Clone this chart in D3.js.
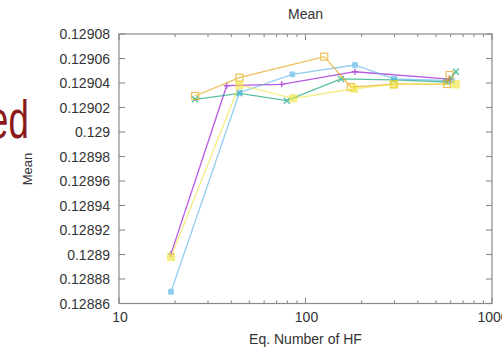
<!DOCTYPE html>
<html>
<head>
<meta charset="utf-8">
<script src="https://cdn.jsdelivr.net/npm/d3@7"></script>
<style>
  body { margin: 0; background: #fff; }
  svg { display: block; font-family: "Liberation Sans", Arial, sans-serif; }
</style>
</head>
<body>
<svg id="chart"></svg>
<script>
// series: [eq. number of HF, mean]
var purple = [[19, 0.1289005], [37.8, 0.1290378], [74.5, 0.1290389], [184, 0.1290492], [592, 0.1290432]];
var green  = [[25.6, 0.1290267], [44.2, 0.1290316], [79.5, 0.1290256], [155, 0.1290433], [298, 0.1290425], [574, 0.1290408], [640, 0.1290492]];
var blue   = [[19, 0.1288696], [44.2, 0.1290321], [85, 0.1290471], [184, 0.1290547], [298, 0.1290433], [610, 0.1290420]];
var orange = [[25.6, 0.1290294], [44.2, 0.1290443], [126, 0.1290615], [175, 0.1290367], [298, 0.1290390], [574, 0.1290392], [592, 0.1290465]];
var yellow = [[19, 0.1288980], [44.2, 0.1290384], [86, 0.1290275], [182, 0.1290353], [298, 0.1290389], [640, 0.1290389]];

var yTicks = [0.12886, 0.12888, 0.1289, 0.12892, 0.12894, 0.12896, 0.12898, 0.129, 0.12902, 0.12904, 0.12906, 0.12908];
var xTicks = [10, 100, 1000];

var series = [
  {data: purple, color: "#9400d3", mark: "plus"},
  {data: green,  color: "#009e73", mark: "cross"},
  {data: blue,   color: "#56b4e9", mark: "star"},
  {data: orange, color: "#e69f00", mark: "openSquare"},
  {data: yellow, color: "#f0e442", mark: "fillSquare"}
];

var width = 502, height = 349;
var svg = d3.select("#chart").attr("width", width).attr("height", height);

var pLeft = 119, pRight = 492, pTop = 34, pBottom = 303.5;
var x = d3.scaleLog().domain([10, 1000]).range([pLeft, pRight]);
var y = d3.scaleLinear().domain([0.12886, 0.12908]).range([pBottom, pTop]);

// slide text behind the chart
svg.append("text")
  .attr("transform", "translate(-12,138) scale(0.68,1)")
  .style("font-size", "54px")
  .style("fill", "#8b1a1a")
  .text("ed");

var axisColor = "#8a8a8a";

// frame
svg.append("rect")
  .attr("x", pLeft).attr("y", pTop)
  .attr("width", pRight - pLeft).attr("height", pBottom - pTop)
  .style("fill", "none").style("stroke", axisColor).style("stroke-width", 1.2);

// y ticks (inward, both sides)
var ticks = svg.append("g");
yTicks.forEach(function(t) {
  ticks.append("line").attr("x1", pLeft).attr("x2", pLeft + 6).attr("y1", y(t)).attr("y2", y(t));
  ticks.append("line").attr("x1", pRight).attr("x2", pRight - 6).attr("y1", y(t)).attr("y2", y(t));
  svg.append("text")
    .attr("x", pLeft - 9).attr("y", y(t) + 5)
    .attr("text-anchor", "end")
    .style("font-size", "14px").style("fill", "#333")
    .text(+t.toPrecision(5));
});

// x ticks, log minor ticks
var minor = [];
[10, 100].forEach(function(dec) {
  for (var k = 2; k <= 9; k++) minor.push(dec * k);
});
minor.forEach(function(t) {
  ticks.append("line").attr("x1", x(t)).attr("x2", x(t)).attr("y1", pBottom).attr("y2", pBottom - 3);
  ticks.append("line").attr("x1", x(t)).attr("x2", x(t)).attr("y1", pTop).attr("y2", pTop + 3);
});
xTicks.forEach(function(t) {
  ticks.append("line").attr("x1", x(t)).attr("x2", x(t)).attr("y1", pBottom).attr("y2", pBottom - 6);
  ticks.append("line").attr("x1", x(t)).attr("x2", x(t)).attr("y1", pTop).attr("y2", pTop + 6);
  svg.append("text")
    .attr("x", x(t) + 1).attr("y", 322)
    .attr("text-anchor", "middle")
    .style("font-size", "14px").style("fill", "#333")
    .text(t);
});
ticks.selectAll("line").style("stroke", axisColor).style("stroke-width", 1.1);

// titles
svg.append("text")
  .attr("x", (pLeft + pRight) / 2).attr("y", 19)
  .attr("text-anchor", "middle")
  .style("font-size", "14px").style("fill", "#333")
  .text("Mean");
svg.append("text")
  .attr("x", (pLeft + pRight) / 2).attr("y", 344)
  .attr("text-anchor", "middle")
  .style("font-size", "14px").style("fill", "#333")
  .text("Eq. Number of HF");
svg.append("text")
  .attr("transform", "translate(32,169) rotate(-90)")
  .attr("text-anchor", "middle")
  .style("font-size", "13px").style("fill", "#333")
  .text("Mean");

// lines and markers
var line = d3.line()
  .x(function(d) { return x(d[0]); })
  .y(function(d) { return y(d[1]); });

var marks = {
  plus: "M-3,0H3M0,-3V3",
  cross: "M-3,-3L3,3M-3,3L3,-3",
  star: "M-3,0H3M0,-3V3M-2.5,-2.5L2.5,2.5M-2.5,2.5L2.5,-2.5"
};

series.forEach(function(s) {
  var g = svg.append("g").style("opacity", 0.65);
  g.append("path")
    .attr("d", line(s.data))
    .style("fill", "none")
    .style("stroke", s.color)
    .style("stroke-width", 1.3);
  var pts = g.selectAll("g.pt")
    .data(s.data)
    .enter().append("g")
    .attr("transform", function(d) { return "translate(" + x(d[0]) + "," + y(d[1]) + ")"; });
  if (s.mark == "openSquare" || s.mark == "fillSquare") {
    pts.append("rect")
      .attr("x", -3.5).attr("y", -3.5).attr("width", 7).attr("height", 7)
      .style("fill", s.mark == "fillSquare" ? s.color : "none")
      .style("stroke", s.color).style("stroke-width", 1.2);
  } else {
    pts.append("path")
      .attr("d", marks[s.mark])
      .style("fill", "none")
      .style("stroke", s.color).style("stroke-width", s.mark == "star" ? 1.8 : 1.4);
  }
});
</script>
</body>
</html>
